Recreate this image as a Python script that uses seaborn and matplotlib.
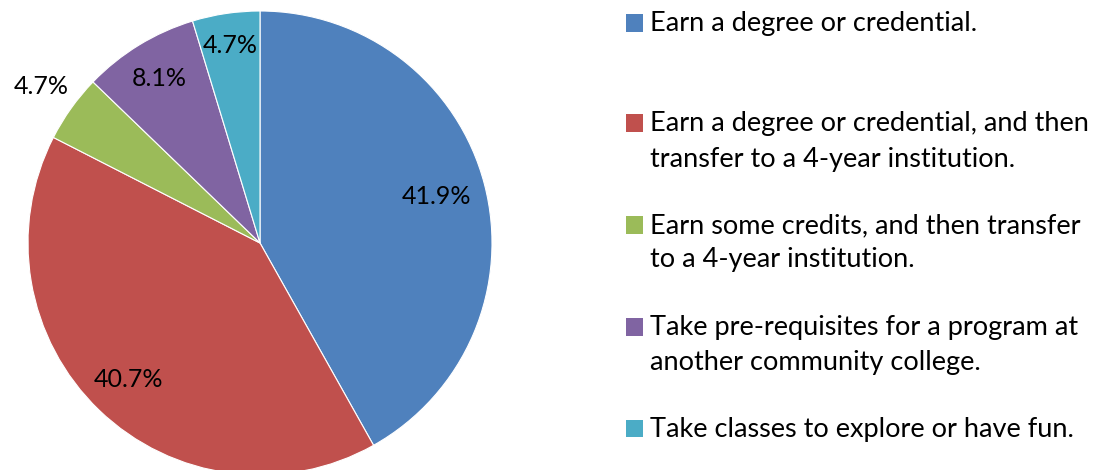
import matplotlib
matplotlib.use("Agg")
import matplotlib.pyplot as plt
import seaborn as sns
import numpy as np
from matplotlib.patches import Rectangle

categories = [
    "Earn a degree or credential.",
    "Earn a degree or credential, and then\ntransfer to a 4-year institution.",
    "Earn some credits, and then transfer\nto a 4-year institution.",
    "Take pre-requisites for a program at\nanother community college.",
    "Take classes to explore or have fun.",
]
values = [41.9, 40.7, 4.7, 8.1, 4.7]
labels = ["41.9%", "40.7%", "4.7%", "8.1%", "4.7%"]
colors = ["#4F81BD", "#C0504D", "#9BBB59", "#8064A2", "#4BACC6"]
label_radius = [0.785, 0.815, 1.16, 0.83, 0.86]

sns.set_theme(style="white")
plt.rcParams['font.family'] = ['Lato', 'DejaVu Sans']

W, H = 1110, 470
fig = plt.figure(figsize=(W / 100, H / 100), dpi=100)
cx, cy, R = 260, 243, 232
ax = fig.add_axes([(cx - R) / W, (H - cy - R) / H, 2 * R / W, 2 * R / H])
wedges, _ = ax.pie(values, colors=colors, startangle=90, counterclock=False,
                   wedgeprops=dict(edgecolor="white", linewidth=0.8))
ax.set_xlim(-1, 1)
ax.set_ylim(-1, 1)
ax.set_aspect("equal")
ax.axis("off")

for w, lab, rf in zip(wedges, labels, label_radius):
    ang = np.deg2rad((w.theta1 + w.theta2) / 2)
    ax.text(rf * np.cos(ang), rf * np.sin(ang), lab, ha="center", va="center",
            fontsize=18, color="black")

# legend (baselines of each text line, in pixels from top)
baselines = [[31], [131.5, 166.5], [233, 267], [335, 370], [436.5]]
for cat, col, bl in zip(categories, colors, baselines):
    fig.add_artist(Rectangle((626 / W, 1 - (bl[0] + 0.5) / H), 17 / W, 17.5 / H,
                             transform=fig.transFigure, facecolor=col, edgecolor="none"))
    for line, y in zip(cat.split("\n"), bl):
        fig.text(650 / W, 1 - y / H, line, ha="left", va="baseline", fontsize=19.5,
                 color="black")

fig.savefig("out.png", dpi=100)
